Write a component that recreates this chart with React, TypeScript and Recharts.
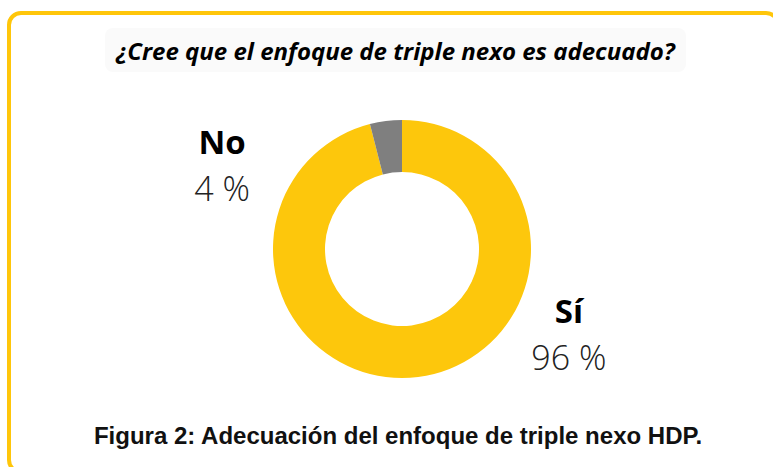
import { PieChart, Pie, Cell } from "recharts";

const categories = ["Sí", "No"];
const shares = [96, 4];
const sliceColors = ["#FDC70C", "#7F7F7F"];

const data = categories.map((name, i) => ({ name, value: shares[i] }));

// where each label block sits around the ring (degrees, radius past the outer edge)
const labelSpot: Record<string, { angle: number; extra: number }> = {
  "Sí": { angle: -28, extra: 60 },
  No: { angle: 156, extra: 68 },
};

const RAD = Math.PI / 180;

function renderLabel(props: any) {
  const { cx, cy, outerRadius, name, value } = props;
  const spot = labelSpot[name];
  const r = outerRadius + spot.extra;
  const x = cx + r * Math.cos(spot.angle * RAD);
  const y = cy - r * Math.sin(spot.angle * RAD);
  return (
    <g>
      <text
        x={x}
        y={y - 15}
        textAnchor="middle"
        fontFamily="'Open Sans', sans-serif"
        fontWeight={700}
        fontSize={33}
        fill="#000"
      >
        {name}
      </text>
      <text
        x={x}
        y={y + 32}
        textAnchor="middle"
        fontFamily="'Open Sans', sans-serif"
        fontWeight={300}
        fontSize={34}
        fill="#222"
      >
        {`${value} %`}
      </text>
    </g>
  );
}

export default function App() {
  return (
    <div
      style={{
        position: "absolute",
        left: 0,
        top: 0,
        width: 773,
        height: 467,
        overflow: "hidden",
        background: "#fff",
      }}
    >
      <div
        style={{
          position: "absolute",
          left: 7,
          top: 11,
          width: 773,
          height: 463,
          boxSizing: "border-box",
          border: "4px solid #FFC60A",
          borderRadius: 14,
        }}
      />
      <div
        style={{
          position: "absolute",
          left: 105,
          top: 28,
          width: 581,
          height: 44,
          background: "#fafafa",
          borderRadius: 8,
          display: "flex",
          alignItems: "center",
          justifyContent: "center",
          fontFamily: "'Open Sans', sans-serif",
          fontStyle: "italic",
          fontWeight: 700,
          fontSize: 24,
          color: "#000",
        }}
      >
        ¿Cree que el enfoque de triple nexo es adecuado?
      </div>
      <div style={{ position: "absolute", left: 0, top: 0 }}>
        <PieChart width={773} height={467}>
          <Pie
            data={data}
            dataKey="value"
            nameKey="name"
            cx={397}
            cy={244}
            innerRadius={77}
            outerRadius={129}
            startAngle={90}
            endAngle={-270}
            stroke="none"
            label={renderLabel}
            labelLine={false}
            isAnimationActive={false}
          >
            {data.map((_, i) => (
              <Cell key={i} fill={sliceColors[i]} />
            ))}
          </Pie>
        </PieChart>
      </div>
      <div
        style={{
          position: "absolute",
          left: 0,
          width: 796,
          top: 422,
          textAlign: "center",
          fontFamily: "'Liberation Sans', Arial, sans-serif",
          fontWeight: 700,
          fontSize: 24,
          color: "#111",
        }}
      >
        Figura 2: Adecuación del enfoque de triple nexo HDP.
      </div>
    </div>
  );
}
